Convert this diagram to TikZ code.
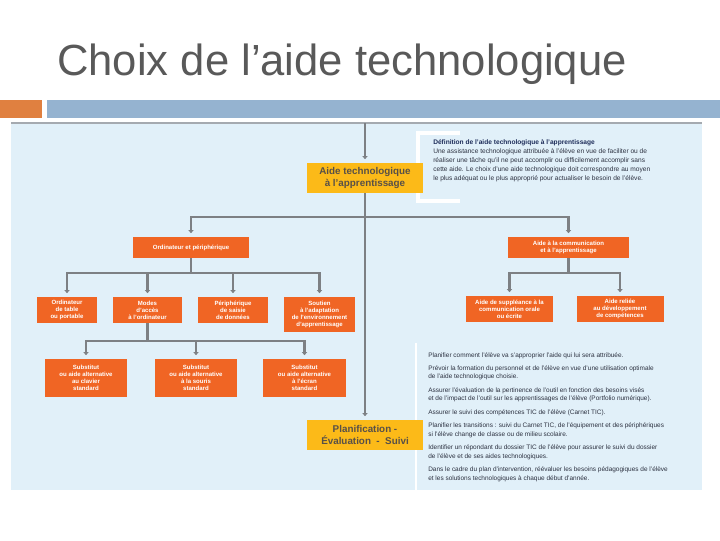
\documentclass[tikz,border=0pt]{standalone}
\usepackage{fontspec}
\setmainfont{Liberation Sans}
\usetikzlibrary{arrows.meta,positioning}

\definecolor{titlegray}{RGB}{89,89,89}
\definecolor{barorange}{RGB}{224,128,64}
\definecolor{barblue}{RGB}{149,179,208}
\definecolor{panelblue}{RGB}{225,240,249}
\definecolor{panelline}{RGB}{165,170,176}
\definecolor{linkgray}{RGB}{125,128,132}
\definecolor{boxorange}{RGB}{240,101,36}
\definecolor{boxyellow}{RGB}{252,186,24}
\definecolor{yellowtext}{RGB}{88,80,72}
\definecolor{deftitle}{RGB}{30,45,90}
\definecolor{bodytext}{RGB}{45,50,65}

\begin{document}
\begin{tikzpicture}[x=0.025cm,y=-0.025cm,
    leaf/.style={fill=boxorange, text=white, align=center, inner sep=1pt, font=\bfseries\fontsize{4.3}{5}\selectfont},
    keybox/.style={fill=boxyellow, text=yellowtext, align=center, inner sep=1pt, minimum width=2.875cm, minimum height=0.75cm, font=\bfseries\fontsize{7}{8.3}\selectfont},
    link/.style={draw=linkgray, line width=2.1pt},
    drop/.style={link, -{Triangle[length=2.2pt,width=3.6pt]}, shorten >=2.5pt},
    note/.style={text=bodytext, align=left, anchor=north west, inner sep=0pt, font=\fontsize{4.6}{6.1}\selectfont}
  ]
    \useasboundingbox (0,0) rectangle (720,540);

    % title and header bars
    \node[anchor=base west, inner sep=0pt, text=titlegray, font=\fontsize{31}{36}\selectfont] (title) at (57,75) {Choix de l’aide technologique};
    \fill[barorange] (0,100) rectangle (42,118);
    \fill[barblue] (47,100) rectangle (720,118);

    % panel
    \fill[panelblue] (11,123) rectangle (702,490);
    \draw[panelline, line width=1.2pt] (11,123) -- (702,123);
    \draw[white, line width=2.2pt] (460,133) -- (418,133) -- (418,201) -- (460,201);
    \draw[white, line width=1.6pt] (416,343) -- (416,490);

    % main boxes
    \node[keybox] (aide) at (365,178) {Aide technologique\\à l'apprentissage};
    \node[keybox] (plan) at (365,435) {Planification -\\Évaluation \ - \ Suivi};
    \node[leaf, minimum width=2.875cm, minimum height=0.525cm] (ordi) at (191,247.5) {Ordinateur et périphérique};
    \node[leaf, minimum width=3.025cm, minimum height=0.525cm] (comm) at (568.5,247.5) {Aide à la communication\\et à l'apprentissage};

    % ordinateur branch
    \node[leaf, minimum width=1.5cm, minimum height=0.65cm] (table) at (67,310) {Ordinateur\\de table\\ou portable};
    \node[leaf, minimum width=1.725cm, minimum height=0.65cm] (modes) at (147.5,310) {Modes\\d'accès\\à l'ordinateur};
    \node[leaf, minimum width=1.75cm, minimum height=0.65cm] (saisie) at (233,310) {Périphérique\\de saisie\\de données};
    \node[leaf, minimum width=1.775cm, minimum height=0.875cm] (soutien) at (319.5,314.5) {Soutien\\à l'adaptation\\de l'environnement\\d'apprentissage};

    \node[leaf, minimum width=2.05cm, minimum height=0.95cm] (clavier) at (86,378) {Substitut\\ou aide alternative\\au clavier\\standard};
    \node[leaf, minimum width=2.05cm, minimum height=0.95cm] (souris) at (196,378) {Substitut\\ou aide alternative\\à la souris\\standard};
    \node[leaf, minimum width=2.05cm, minimum height=0.95cm] (ecran) at (304.5,378) {Substitut\\ou aide alternative\\à l'écran\\standard};

    % communication branch
    \node[leaf, minimum width=2.15cm, minimum height=0.65cm] (suppl) at (509.5,309) {Aide de suppléance à la\\communication orale\\ou écrite};
    \node[leaf, minimum width=2.175cm, minimum height=0.65cm] (compet) at (620,309) {Aide reliée\\au développement\\de compétences};

    % texts
    \node[note, font=\fontsize{4.7}{6.4}\selectfont] (deftext) at (433,139) {{\bfseries\color{deftitle}Définition de l'aide technologique à l'apprentissage}\\
      Une assistance technologique attribuée à l'élève en vue de faciliter ou de\\
      réaliser une tâche qu'il ne peut accomplir ou difficilement accomplir sans\\
      cette aide. Le choix d'une aide technologique doit correspondre au moyen\\
      le plus adéquat ou le plus approprié pour actualiser le besoin de l'élève.};
    \node[note] (suivitext) at (428,352) {Planifier comment l'élève va s'approprier l'aide qui lui sera attribuée.\\[3.4pt]
      Prévoir la formation du personnel et de l'élève en vue d'une utilisation optimale\\
      de l'aide technologique choisie.\\[3.4pt]
      Assurer l'évaluation de la pertinence de l'outil en fonction des besoins visés\\
      et de l'impact de l'outil sur les apprentissages de l'élève (Portfolio numérique).\\[3.4pt]
      Assurer le suivi des compétences TIC de l'élève (Carnet TIC).\\[3.4pt]
      Planifier les transitions : suivi du Carnet TIC, de l'équipement et des périphériques\\
      si l'élève change de classe ou de milieu scolaire.\\[3.4pt]
      Identifier un répondant du dossier TIC de l'élève pour assurer le suivi du dossier\\
      de l'élève et de ses aides technologiques.\\[3.4pt]
      Dans le cadre du plan d'intervention, réévaluer les besoins pédagogiques de l'élève\\
      et les solutions technologiques à chaque début d'année.};

    % connectors
    \coordinate (top) at (365,123);
    \coordinate (split) at (365,217);
    \coordinate (ordijoin) at (191,273);
    \coordinate (modesjoin) at (147.5,341);
    \coordinate (commjoin) at (568.5,273);
    \draw[drop] (top) -- (aide.north);
    \draw[drop] (aide.south) -- (plan.north);
    \draw[drop] (split) -| (ordi.north);
    \draw[drop] (split) -| (comm.north);
    \draw[link] (ordi.south) -- (ordijoin);
    \draw[drop] (ordijoin) -| (table.north);
    \draw[drop] (ordijoin) -| (modes.north);
    \draw[drop] (ordijoin) -| (saisie.north);
    \draw[drop] (ordijoin) -| (soutien.north);
    \draw[link] (modes.south) -- (modesjoin);
    \draw[drop] (modesjoin) -| (clavier.north);
    \draw[drop] (modesjoin) -| (souris.north);
    \draw[drop] (modesjoin) -| (ecran.north);
    \draw[link] (comm.south) -- (commjoin);
    \draw[drop] (commjoin) -| (suppl.north);
    \draw[drop] (commjoin) -| (compet.north);
\end{tikzpicture}
\end{document}
